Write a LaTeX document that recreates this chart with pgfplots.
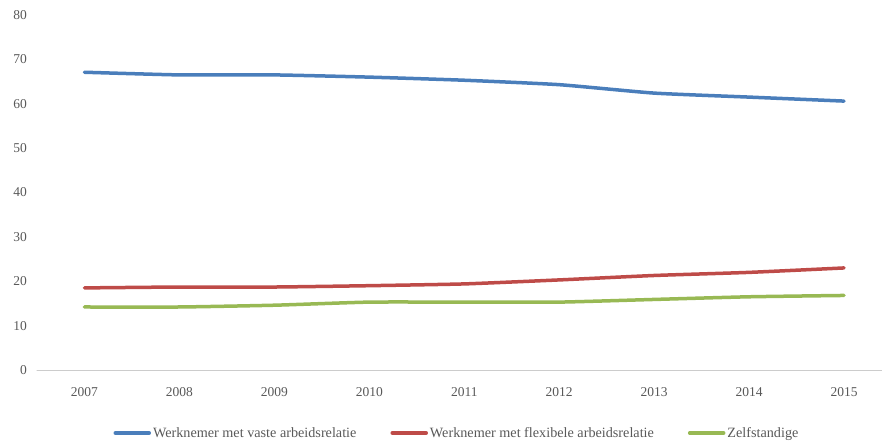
\documentclass[border=0pt]{standalone}
\usepackage{pgfplots}
\pgfplotsset{compat=1.18}
\usepackage{fontspec}
\setmainfont{Liberation Serif}
\definecolor{cblue}{HTML}{4A7EBB}
\definecolor{cred}{HTML}{BE4B48}
\definecolor{cgreen}{HTML}{98B954}
\definecolor{tgray}{HTML}{595959}
\begin{document}
\begin{tikzpicture}[x=1pt,y=1pt]
\path[use as bounding box] (0,0) rectangle (882,442);
\begin{axis}[
  at={(37pt,72pt)}, anchor=south west,
  scale only axis, width=845pt, height=355pt,
  xmin=-0.5, xmax=8.4, ymin=0, ymax=80,
  xtick={0,...,8},
  xticklabels={2007,2008,2009,2010,2011,2012,2013,2014,2015},
  ytick={0,10,...,80},
  axis x line*=bottom, axis y line*=left,
  x axis line style={draw=black!20, line width=1pt, -},
  y axis line style={draw=none},
  major tick length=0pt,
  tick style={draw=none},
  ticklabel style={font=\fontsize{13.5}{15}\selectfont, text=tgray},
  /pgf/number format/assume math mode=true,
  xticklabel style={yshift=-12pt},
  yticklabel style={xshift=-5pt},
  clip=false,
  legend columns=3,
  legend style={draw=none, fill=none, at={(0.497,-63pt)}, anchor=center,
    font=\fontsize{14.2}{16}\selectfont, text=tgray,
    /tikz/every odd column/.append style={column sep=0pt},
    /tikz/every even column/.append style={column sep=32pt}},
  legend cell align=left,
  legend image code/.code={\draw[#1, line width=3.5pt, line cap=round] (0pt,0pt) -- (34pt,0pt);},
  line width=3.5pt, line cap=round,
]
\addplot[cblue, smooth, tension=0.3] coordinates {(0,67.1)(1,66.5)(2,66.5)(3,66.0)(4,65.3)(5,64.3)(6,62.4)(7,61.5)(8,60.6)};
\addlegendentry{Werknemer met vaste arbeidsrelatie}
\addplot[cred, smooth, tension=0.3] coordinates {(0,18.5)(1,18.7)(2,18.7)(3,19.0)(4,19.4)(5,20.3)(6,21.3)(7,22.0)(8,23.0)};
\addlegendentry{Werknemer met flexibele arbeidsrelatie}
\addplot[cgreen, smooth, tension=0.3] coordinates {(0,14.2)(1,14.2)(2,14.6)(3,15.3)(4,15.3)(5,15.3)(6,15.9)(7,16.5)(8,16.8)};
\addlegendentry{Zelfstandige}
\end{axis}
\end{tikzpicture}
\end{document}
